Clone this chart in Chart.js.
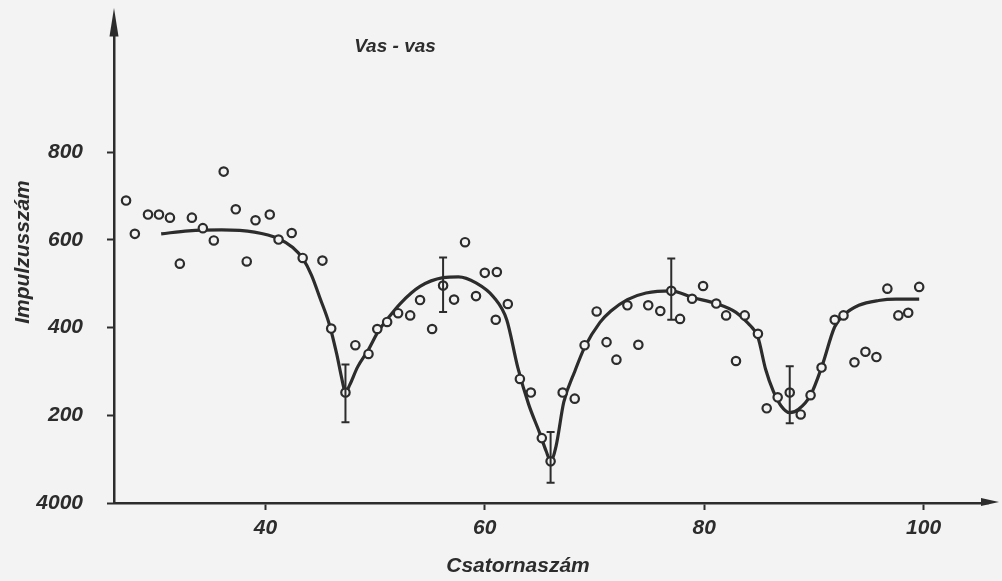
<!DOCTYPE html>
<html>
<head>
<meta charset="utf-8">
<script src="https://cdn.jsdelivr.net/npm/chart.js@4"></script>
<style>
  html, body { margin: 0; padding: 0; background: #f3f3f3; }
  #wrap { width: 1002px; height: 581px; }
</style>
</head>
<body>
<div id="wrap"><canvas id="chart" width="1002" height="581"></canvas></div>
<script>
// measured points (channel, counts)
const channels = [
  27.3, 28.1, 29.3, 30.3, 31.3, 32.2, 33.3, 34.3, 35.3, 36.2, 37.3, 38.3, 39.1, 40.4, 41.2, 42.4, 43.4, 45.2,
  46.0, 47.3, 48.2, 49.4, 50.2, 51.1, 52.1, 53.2, 54.1, 55.2, 56.2, 57.2, 58.2, 59.2, 60.0, 61.1, 61.0, 62.1,
  63.2, 64.2, 65.2, 66.0, 67.1, 68.2, 69.1, 70.2, 71.1, 72.0, 73.0, 74.0, 74.9, 76.0, 77.0, 77.8, 78.9, 79.9,
  81.1, 82.0, 82.9, 83.7, 84.9, 85.7, 86.7, 87.8, 88.8, 89.7, 90.7, 91.9, 92.7, 93.7, 94.7, 95.7, 96.7, 97.7,
  98.6, 99.6
];
const counts = [
  690, 614, 658, 658, 651, 546, 651, 627, 599, 756, 670, 551, 645, 658, 601, 616, 559, 553,
  398, 252, 360, 340, 397, 413, 433, 428, 463, 397, 496, 464, 595, 472, 525, 527, 418, 454,
  283, 252, 148, 95, 252, 238, 360, 437, 367, 327, 451, 361, 451, 438, 484, 420, 466, 495,
  455, 428, 324, 428, 386, 216, 241, 252, 202, 246, 309, 418, 428, 321, 345, 333, 489, 428,
  434, 493
];

// fitted curve
const fitChannels = [
  30.5, 33.0, 36.0, 39.0, 41.2, 42.5, 43.4, 44.2, 45.0, 45.8, 46.5, 47.0, 47.3, 47.7, 48.4, 49.4, 50.3,
  51.2, 52.3, 54.1, 56.2, 57.6, 59.2, 60.8, 62.0, 63.0, 64.0, 65.0, 65.6, 66.0, 66.5, 67.2, 68.2, 69.1,
  70.5, 71.5, 73.0, 74.7, 77.0, 78.9, 81.1, 82.9, 84.0, 84.9, 85.6, 86.3, 87.0, 87.8, 88.6, 89.7, 90.7,
  91.9, 92.7, 94.1, 95.9, 97.5, 99.6
];
const fitCounts = [
  614, 621, 623, 618, 603, 583, 558, 520, 466, 410, 340, 280, 252, 270, 310, 350, 392,
  422, 455, 494, 514, 516, 502, 470, 418, 310, 225, 160, 118, 96, 130, 230, 300, 355,
  412, 438, 464, 479, 484, 469, 455, 435, 410, 378, 305, 255, 222, 206, 214, 246, 309,
  402, 428, 451, 462, 465, 465
];

// error bars
const errChannels = [47.3, 56.2, 66.0, 77.0, 87.8];
const errLow = [184, 436, 46, 418, 182];
const errHigh = [316, 560, 162, 558, 312];

const xTicks = [40, 60, 80, 100];
const yTicks = [0, 200, 400, 600, 800];
const yTickLabels = ['4000', '200', '400', '600', '800'];

const ink = '#2c2c2c';
const paper = '#f3f3f3';
const handFont = { family: 'Liberation Sans', style: 'italic', weight: 'bold', size: 21 };

const paperPlugin = {
  id: 'paper',
  beforeDraw(chart) {
    const { ctx, width, height } = chart;
    ctx.save();
    ctx.fillStyle = paper;
    ctx.fillRect(0, 0, width, height);
    ctx.restore();
  },
};

const errorBars = {
  id: 'errorBars',
  afterDatasetsDraw(chart) {
    const { ctx, scales: { x, y } } = chart;
    ctx.save();
    ctx.strokeStyle = ink;
    ctx.lineWidth = 2;
    errChannels.forEach((c, i) => {
      const px = x.getPixelForValue(c);
      const lo = y.getPixelForValue(errLow[i]);
      const hi = y.getPixelForValue(errHigh[i]);
      ctx.beginPath();
      ctx.moveTo(px, lo);
      ctx.lineTo(px, hi);
      ctx.moveTo(px - 4, lo);
      ctx.lineTo(px + 4, lo);
      ctx.moveTo(px - 4, hi);
      ctx.lineTo(px + 4, hi);
      ctx.stroke();
    });
    ctx.restore();
  },
};

const axesAndText = {
  id: 'axesAndText',
  afterDraw(chart) {
    const { ctx, chartArea: { left, right, top, bottom } } = chart;
    ctx.save();
    ctx.fillStyle = ink;
    ctx.strokeStyle = ink;
    ctx.lineWidth = 2.5;

    // arrow heads
    ctx.beginPath();
    ctx.moveTo(left, 8);
    ctx.lineTo(left - 4.5, top);
    ctx.lineTo(left + 4.5, top);
    ctx.closePath();
    ctx.fill();

    ctx.beginPath();
    ctx.moveTo(right - 2, bottom);
    ctx.lineTo(right + 4, bottom);
    ctx.stroke();
    ctx.beginPath();
    ctx.moveTo(right + 14, bottom - 1);
    ctx.lineTo(right - 4, bottom - 5);
    ctx.lineTo(right - 4, bottom + 3);
    ctx.closePath();
    ctx.fill();

    ctx.textAlign = 'center';
    ctx.textBaseline = 'middle';
    ctx.font = 'italic bold 19px "Liberation Sans"';
    ctx.fillText('Vas - vas', 395, 47);

    ctx.font = 'italic bold 21px "Liberation Sans"';
    ctx.fillText('Csatornaszám', 518, 566);

    ctx.translate(23, 252);
    ctx.rotate(-Math.PI / 2);
    ctx.fillText('Impulzusszám', 0, 0);
    ctx.restore();
  },
};

new Chart(document.getElementById('chart'), {
  type: 'scatter',
  data: {
    datasets: [
      {
        label: 'mért',
        data: channels.map((c, i) => ({ x: c, y: counts[i] })),
        pointStyle: 'circle',
        pointRadius: 4.2,
        pointBorderWidth: 2.2,
        pointBorderColor: ink,
        pointBackgroundColor: paper,
        showLine: false,
      },
      {
        label: 'illesztett',
        data: fitChannels.map((c, i) => ({ x: c, y: fitCounts[i] })),
        showLine: true,
        pointRadius: 0,
        borderColor: ink,
        borderWidth: 3.2,
        cubicInterpolationMode: 'monotone',
      },
    ],
  },
  options: {
    responsive: false,
    animation: false,
    events: [],
    layout: { padding: { top: 28, right: 17, left: 0, bottom: 0 } },
    scales: {
      x: {
        type: 'linear',
        min: 26.2,
        max: 105.6,
        afterBuildTicks: (scale) => { scale.ticks = xTicks.map((v) => ({ value: v })); },
        afterFit: (scale) => { scale.height = 78; },
        grid: { drawOnChartArea: false, drawTicks: true, tickLength: 7, tickWidth: 2, tickColor: ink },
        border: { display: true, color: ink, width: 2.5 },
        ticks: { font: handFont, color: ink, padding: 6, maxRotation: 0, autoSkip: false },
      },
      y: {
        type: 'linear',
        min: 0,
        max: 1064,
        afterBuildTicks: (scale) => { scale.ticks = yTicks.map((v) => ({ value: v })); },
        afterFit: (scale) => { scale.width = 114; },
        grid: { drawOnChartArea: false, drawTicks: true, tickLength: 7, tickWidth: 2, tickColor: ink },
        border: { display: true, color: ink, width: 2.5 },
        ticks: {
          font: handFont,
          color: ink,
          padding: 24,
          autoSkip: false,
          callback: (value) => yTickLabels[yTicks.indexOf(value)],
        },
      },
    },
    plugins: {
      legend: { display: false },
      tooltip: { enabled: false },
    },
  },
  plugins: [paperPlugin, errorBars, axesAndText],
});
</script>
</body>
</html>
